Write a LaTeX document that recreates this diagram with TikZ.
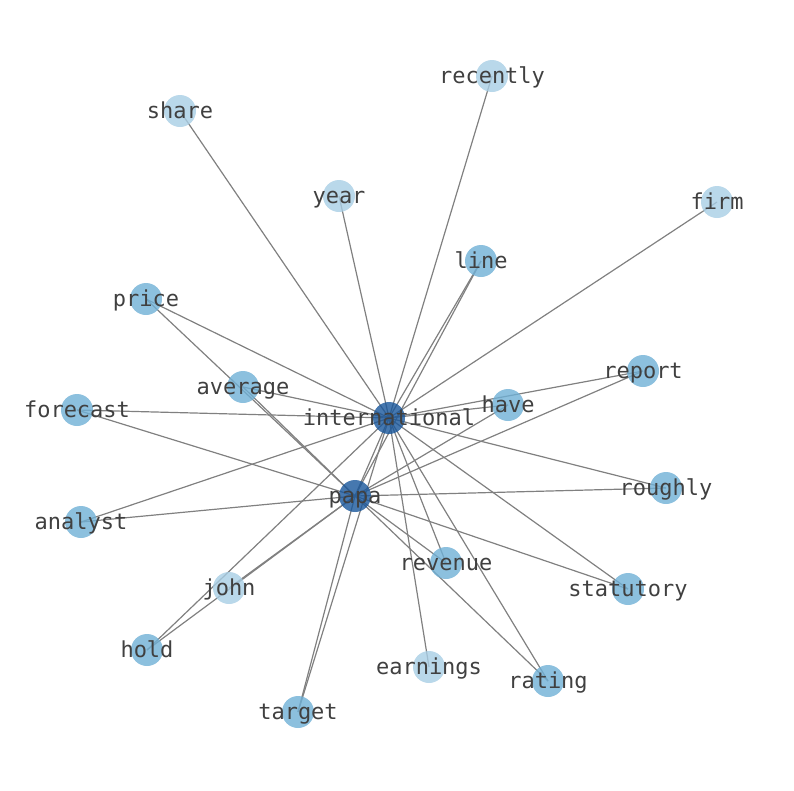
\documentclass[tikz,border=0pt]{standalone}
\usepackage{fontspec}
\setmonofont{DejaVu Sans Mono}
\definecolor{lightc}{RGB}{168,206,229}
\definecolor{medc}{RGB}{111,176,214}
\definecolor{darkc}{RGB}{24,86,155}
\definecolor{edgec}{RGB}{128,128,128}
\definecolor{txtc}{RGB}{64,64,64}
\tikzset{
  vlight/.style={circle,minimum size=32pt,inner sep=0pt,fill=lightc,fill opacity=0.8},
  vmed/.style={circle,minimum size=32pt,inner sep=0pt,fill=medc,fill opacity=0.8},
  vdark/.style={circle,minimum size=32pt,inner sep=0pt,fill=darkc,fill opacity=0.8},
  lbl/.style={text=txtc,font=\ttfamily\fontsize{22}{22}\selectfont,inner sep=0pt,yshift=-1.5pt},
  edge/.style={draw=edgec,line width=1.2pt}
}
\begin{document}
\begin{tikzpicture}[x=1pt,y=-1pt]
\useasboundingbox (0,0) rectangle (794,790);
% coordinates
\coordinate (international) at (389,418);
\coordinate (papa) at (355,496);
\coordinate (recently) at (492,76);
\coordinate (share) at (180,111);
\coordinate (year) at (339,196);
\coordinate (firm) at (717,202);
\coordinate (line) at (481,261);
\coordinate (price) at (146,299);
\coordinate (report) at (643,371);
\coordinate (average) at (243,387);
\coordinate (forecast) at (77,410);
\coordinate (have) at (508,405);
\coordinate (roughly) at (666,488);
\coordinate (analyst) at (81,522);
\coordinate (revenue) at (446,563);
\coordinate (john) at (229,588);
\coordinate (statutory) at (628,589);
\coordinate (hold) at (147,650);
\coordinate (earnings) at (429,667);
\coordinate (rating) at (548,681);
\coordinate (target) at (298,712);
% edges
\foreach \n in {recently,share,year,firm,earnings,line,price,report,average,forecast,have,roughly,analyst,revenue,statutory,hold,rating,target,papa}
  \draw[edge] (international) -- (\n);
\foreach \n in {john,line,price,report,average,forecast,have,roughly,analyst,revenue,statutory,hold,rating,target}
  \draw[edge] (papa) -- (\n);
% nodes
\foreach \n in {recently,share,year,firm,earnings,john}
  \node[vlight] (n-\n) at (\n) {};
\foreach \n in {line,price,report,average,forecast,have,roughly,analyst,revenue,statutory,hold,rating,target}
  \node[vmed] (n-\n) at (\n) {};
\foreach \n in {international,papa}
  \node[vdark] (n-\n) at (\n) {};
% labels
\foreach \n in {recently,share,year,firm,earnings,john,line,price,report,average,forecast,have,roughly,analyst,revenue,statutory,hold,rating,target,international,papa}
  \node[lbl] (t-\n) at (\n) {\vphantom{hg}\n};
\end{tikzpicture}
\end{document}
